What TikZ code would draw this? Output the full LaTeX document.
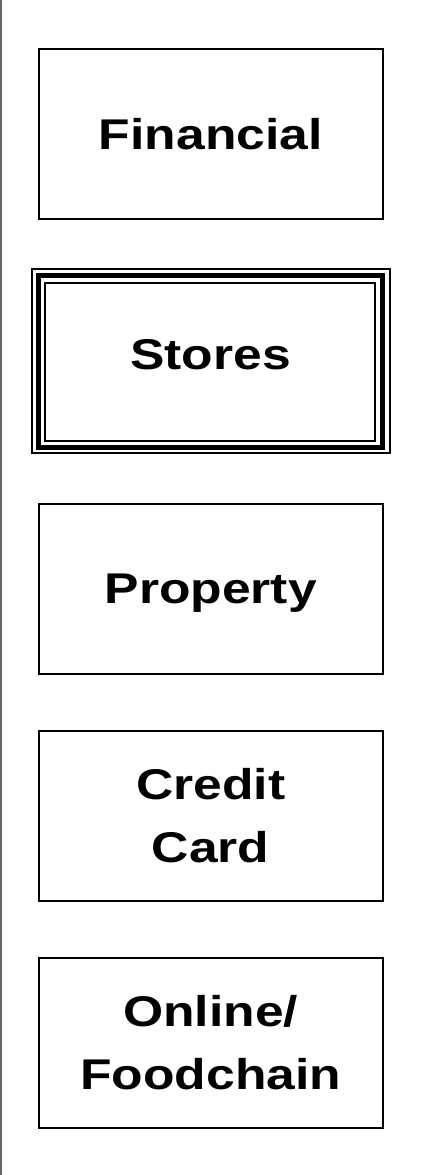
\documentclass[tikz,border=0pt]{standalone}
\usepackage{fontspec}
\newfontfamily\lab{Liberation Sans}[FakeStretch=1.2]
\begin{document}
\begin{tikzpicture}[x=1pt,y=-1pt,
  box/.style={draw=black, line width=2pt, rectangle, minimum width=343.5pt, minimum height=170.5pt, inner sep=0pt},
  lbl/.style={font=\lab\bfseries\fontsize{43}{63}\selectfont, align=center, inner sep=0pt},
  thin/.style={draw=black, line width=2pt},
  thick/.style={draw=black, line width=5pt}]
\useasboundingbox (0,0) rectangle (421,1175);
\draw[gray!80!black, line width=1.5pt] (0.75,0) -- (0.75,1175);
% Financial
\node[box] (fin) at (210.75,134) {};
\node[lbl] (fintext) at (fin.center) {Financial};
% Stores (triple frame)
\node[thick, rectangle, minimum width=343.5pt, minimum height=171.5pt, inner sep=0pt] (sto) at (210.25,361.25) {};
\draw[thin] (32,269) rectangle (390,453);
\draw[thin] (45,283) rectangle (375,441);
\node[lbl] (stotext) at (210.5,355) {Stores};
% Property
\node[box] (pro) at (210.75,589) {};
\node[lbl, anchor=base] (protext) at (210.75,603) {Property};
% Credit Card
\node[box] (cre) at (210.75,816) {};
\node[lbl] (cretext) at (cre.center) {Credit\\Card};
% Online / Foodchain
\node[box] (onl) at (210.75,1043) {};
\node[lbl] (onltext) at (onl.center) {Online/\\Foodchain};
\end{tikzpicture}
\end{document}
